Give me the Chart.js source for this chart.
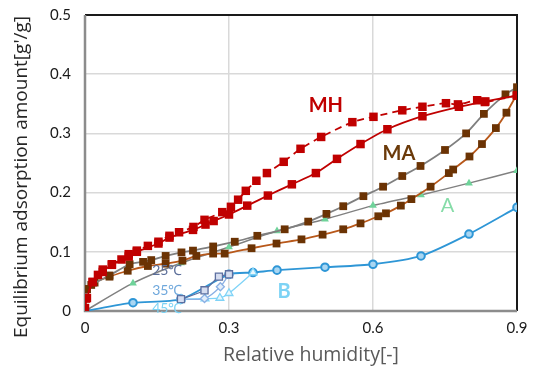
<!DOCTYPE html>
<html>
<head>
<meta charset="utf-8">
<script src="https://cdn.jsdelivr.net/npm/chart.js@4"></script>
<style>
  html, body { margin: 0; padding: 0; background: #fff; }
  #box { width: 533px; height: 369px; }
</style>
</head>
<body>
<div id="box"><canvas id="wykres" width="533" height="369"></canvas></div>
<script>
// MH, adsorption (solid) and desorption (dashed)
const mhAdsX = [0, 0.004, 0.016, 0.037, 0.056, 0.091, 0.108, 0.153, 0.176, 0.225, 0.251, 0.268, 0.300, 0.338, 0.381, 0.431, 0.481, 0.525, 0.574, 0.630, 0.703, 0.779, 0.834, 0.9];
const mhAdsY = [0.005, 0.022, 0.049, 0.066, 0.078, 0.092, 0.100, 0.114, 0.124, 0.137, 0.146, 0.152, 0.163, 0.178, 0.195, 0.214, 0.233, 0.257, 0.282, 0.307, 0.329, 0.345, 0.354, 0.364];
const mhDesX = [0.9, 0.833, 0.817, 0.777, 0.752, 0.703, 0.661, 0.601, 0.557, 0.492, 0.449, 0.414, 0.379, 0.357, 0.335, 0.319, 0.304, 0.286, 0.249, 0.226, 0.196, 0.176, 0.153, 0.131, 0.108, 0.091, 0.076, 0.056, 0.037, 0.027, 0.016, 0.002];
const mhDesY = [0.364, 0.353, 0.356, 0.349, 0.351, 0.345, 0.339, 0.328, 0.319, 0.294, 0.274, 0.252, 0.233, 0.220, 0.203, 0.188, 0.176, 0.167, 0.154, 0.142, 0.133, 0.127, 0.117, 0.110, 0.102, 0.096, 0.087, 0.079, 0.070, 0.061, 0.049, 0.021];

// MA, upper branch (grey line) and lower branch (brown line)
const maUpX = [0, 0.004, 0.013, 0.051, 0.093, 0.121, 0.138, 0.168, 0.201, 0.225, 0.267, 0.312, 0.359, 0.416, 0.465, 0.503, 0.538, 0.580, 0.621, 0.661, 0.699, 0.750, 0.794, 0.831, 0.876, 0.9];
const maUpY = [0, 0.037, 0.044, 0.060, 0.079, 0.083, 0.086, 0.093, 0.099, 0.102, 0.109, 0.117, 0.127, 0.138, 0.151, 0.164, 0.177, 0.194, 0.210, 0.228, 0.245, 0.272, 0.300, 0.333, 0.366, 0.378];
const maLoX = [0, 0.004, 0.020, 0.051, 0.089, 0.131, 0.168, 0.203, 0.232, 0.267, 0.291, 0.347, 0.399, 0.451, 0.495, 0.538, 0.574, 0.611, 0.627, 0.658, 0.680, 0.720, 0.758, 0.767, 0.801, 0.827, 0.856, 0.878, 0.899];
const maLoY = [0, 0.037, 0.048, 0.058, 0.068, 0.076, 0.080, 0.085, 0.093, 0.097, 0.097, 0.106, 0.114, 0.121, 0.129, 0.138, 0.148, 0.160, 0.165, 0.178, 0.189, 0.210, 0.233, 0.239, 0.261, 0.282, 0.309, 0.335, 0.365];

// A
const aX = [0, 0.1, 0.2, 0.3, 0.4, 0.5, 0.6, 0.7, 0.8, 0.9];
const aY = [0, 0.047, 0.081, 0.108, 0.135, 0.155, 0.178, 0.196, 0.216, 0.237];

// B and its temperature runs
const bX = [0, 0.1, 0.2, 0.3, 0.35, 0.4, 0.5, 0.6, 0.7, 0.8, 0.9];
const bY = [0, 0.014, 0.020, 0.062, 0.065, 0.069, 0.074, 0.079, 0.093, 0.130, 0.175];
const t25X = [0.2, 0.249, 0.279, 0.3];
const t25Y = [0.020, 0.035, 0.058, 0.062];
const t35X = [0.2, 0.249, 0.282, 0.3];
const t35Y = [0.020, 0.021, 0.041, 0.062];
const t45X = [0.2, 0.25, 0.281, 0.3, 0.35];
const t45Y = [0.020, 0.021, 0.022, 0.030, 0.065];

const xTicks = [0, 0.3, 0.6, 0.9];

// text labels: [text, x, y, colour, font]
const napisy = [
    ["MH", 0.466, 0.336, "#C00000", "bold 20px Lato"],
    ["MA", 0.62, 0.255, "#6B3A0A", "bold 20px Lato"],
    ["A", 0.741, 0.167, "#86DCA8", "20px Lato"],
    ["B", 0.401, 0.022, "#7DD3F5", "bold 20px Lato"],
    ["25℃", 0.14, 0.061, "#5B6E99", "14px Lato"],
    ["35℃", 0.14, 0.027, "#6FA8DC", "14px Lato"],
    ["45℃", 0.14, -0.003, "#7DD3F5", "14px Lato"]
];

function punkty(xs, ys) {
    return xs.map((x, i) => ({ x: x, y: ys[i] }));
}

const dane = {
    datasets: [
        { data: punkty(mhDesX, mhDesY), borderColor: "#C00000", backgroundColor: "#C00000", borderDash: [7, 5], borderWidth: 1.8, pointStyle: "rect", pointRadius: 6, pointBorderWidth: 0 },
        { data: punkty(mhAdsX, mhAdsY), borderColor: "#C00000", backgroundColor: "#C00000", borderWidth: 1.8, pointStyle: "rect", pointRadius: 6, pointBorderWidth: 0 },
        { data: punkty(maUpX, maUpY), borderColor: "#7F7F7F", backgroundColor: "#6B3304", borderWidth: 1.8, pointStyle: "rect", pointRadius: 5.5, pointBorderWidth: 0 },
        { data: punkty(maLoX, maLoY), borderColor: "#B8581A", backgroundColor: "#6B3304", borderWidth: 1.8, pointStyle: "rect", pointRadius: 5.5, pointBorderWidth: 0 },
        { data: punkty(aX, aY), borderColor: "#808080", backgroundColor: "#6FD39A", borderWidth: 1.5, pointStyle: "triangle", pointRadius: 4.5, pointBorderWidth: 0 },
        { data: punkty(t25X, t25Y), borderColor: "#5C6FA0", backgroundColor: "#D6DDF0", borderWidth: 1.3, pointStyle: "rect", pointRadius: 5, pointBorderWidth: 1.3 },
        { data: punkty(t35X, t35Y), borderColor: "#8AB0E4", backgroundColor: "#E4EEFA", borderWidth: 1.3, pointStyle: "rectRot", pointRadius: 4, pointBorderWidth: 1.3 },
        { data: punkty(t45X, t45Y), borderColor: "#7FD3F7", backgroundColor: "#E8F7FD", borderWidth: 1.3, pointStyle: "triangle", pointRadius: 4.5, pointBorderWidth: 1.3 },
        { data: punkty(bX, bY), borderColor: "#2E96D6", backgroundColor: "#A9D6F2", borderWidth: 1.8, pointStyle: "circle", pointRadius: 3.8, pointBorderWidth: 2 }
    ]
};

const ramka = {
    id: "ramka",
    beforeDatasetsDraw(chart) {
        const { ctx, chartArea: a } = chart;
        ctx.save();
        ctx.strokeStyle = "#1A1A1A";
        ctx.lineWidth = 2;
        ctx.beginPath();
        ctx.moveTo(a.left, a.top);
        ctx.lineTo(a.right, a.top);
        ctx.lineTo(a.right, a.bottom);
        ctx.stroke();
        ctx.strokeStyle = "#8C8C8C";
        ctx.lineWidth = 2.5;
        ctx.beginPath();
        ctx.moveTo(a.left, a.top);
        ctx.lineTo(a.left, a.bottom);
        ctx.lineTo(a.right, a.bottom);
        ctx.stroke();
        ctx.restore();
    },
    afterDatasetsDraw(chart) {
        const { ctx, scales } = chart;
        ctx.save();
        ctx.textAlign = "left";
        ctx.textBaseline = "alphabetic";
        napisy.forEach(([t, x, y, c, f]) => {
            ctx.fillStyle = c;
            ctx.font = f;
            ctx.fillText(t, scales.x.getPixelForValue(x), scales.y.getPixelForValue(y));
        });
        // axis titles
        ctx.fillStyle = "#595959";
        ctx.font = "19.5px 'Open Sans'";
        ctx.textAlign = "center";
        ctx.textBaseline = "middle";
        ctx.fillText("Relative humidity[-]", 311, 355);
        ctx.fillStyle = "#262626";
        ctx.font = "19px 'Open Sans'";
        ctx.translate(22, 177);
        ctx.rotate(-Math.PI / 2);
        ctx.fillText("Equilibrium adsorption amount[g'/g]", 0, 0);
        ctx.restore();
    }
};

const ctx = document.getElementById("wykres").getContext("2d");
const wykres = new Chart(ctx, {
    type: "scatter",
    data: dane,
    options: {
        responsive: false,
        animation: false,
        showLine: true,
        layout: { padding: { left: 0, right: 16, top: 15, bottom: 0 } },
        plugins: { legend: { display: false }, tooltip: { enabled: false } },
        elements: { line: { tension: 0.25 } },
        scales: {
            x: {
                type: "linear", min: 0, max: 0.9,
                afterBuildTicks: s => { s.ticks = xTicks.map(v => ({ value: v })); },
                afterFit: s => { s.height = 58; s.paddingLeft = 0; s.paddingRight = 0; },
                grid: { color: "#D9D9D9", lineWidth: 1.5, drawTicks: false },
                border: { display: false },
                ticks: { color: "#1A1A1A", font: { family: "Lato", size: 15 }, padding: 8, maxRotation: 0, callback: v => String(v) }
            },
            y: {
                type: "linear", min: 0, max: 0.5,
                afterFit: s => { s.width = 85; s.paddingTop = 0; s.paddingBottom = 0; },
                grid: { color: "#D9D9D9", lineWidth: 1.5, drawTicks: false },
                border: { display: false },
                ticks: { stepSize: 0.1, color: "#1A1A1A", font: { family: "Lato", size: 15 }, padding: 14, callback: v => String(Math.round(v * 10) / 10) }
            }
        }
    },
    plugins: [ramka]
});
</script>
</body>
</html>
